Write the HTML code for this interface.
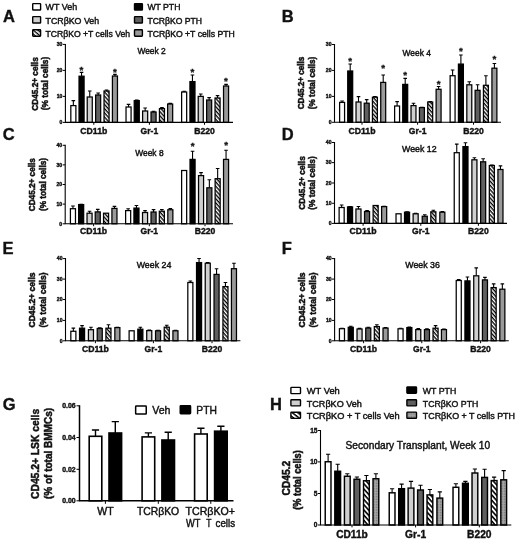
<!DOCTYPE html>
<html lang="en"><head><meta charset="utf-8"><title>Figure</title>
<style>
html,body{margin:0;padding:0;background:#fff;}
body{width:520px;height:542px;overflow:hidden;}
svg{display:block;filter:blur(0.5px);font-family:"Liberation Sans",Arial,Helvetica,sans-serif;fill:#111;}
svg text{fill:#111;}
</style></head><body>
<svg width="520" height="542" viewBox="0 0 520 542">
<defs>
<pattern id="hatch" width="2.8" height="2.8" patternUnits="userSpaceOnUse" patternTransform="rotate(48)"><rect width="2.8" height="2.8" fill="#fff"/><rect width="2.8" height="1.35" fill="#000"/></pattern>
<pattern id="hatchH" width="3.5" height="3.5" patternUnits="userSpaceOnUse" patternTransform="rotate(48)"><rect width="3.5" height="3.5" fill="#fff"/><rect width="3.5" height="1.6" fill="#000"/></pattern>
<pattern id="hatchLA" width="3" height="3" patternUnits="userSpaceOnUse" patternTransform="translate(36.65 33) rotate(40) translate(0 -0.65)"><rect width="3" height="3" fill="#fff"/><rect width="3" height="1.3" fill="#000"/></pattern>
<pattern id="hatchLH" width="3.4" height="3.4" patternUnits="userSpaceOnUse" patternTransform="translate(295.7 415.3) rotate(38) translate(0 -0.75)"><rect width="3.4" height="3.4" fill="#fff"/><rect width="3.4" height="1.5" fill="#000"/></pattern>
<pattern id="lg" width="4" height="4" patternUnits="userSpaceOnUse"><rect width="4" height="4" fill="#cfcfcf"/></pattern>
<pattern id="dots" width="1.6" height="1.6" patternUnits="userSpaceOnUse"><rect width="1.6" height="1.6" fill="#a4a4a4"/><rect width="0.8" height="0.8" fill="#777"/></pattern>
</defs>
<rect width="520" height="542" fill="#fff"/>
<g><path d="M73.35 105.60V100.60M71.55 100.60H75.15" stroke="#000" stroke-width="1.1" fill="none"/><rect x="70.83" y="105.60" width="5.05" height="16.80" fill="#fff" stroke="#000" stroke-width="1.25"/><path d="M81.55 76.20V72.40M79.75 72.40H83.35" stroke="#000" stroke-width="1.1" fill="none"/><rect x="79.03" y="76.20" width="5.05" height="46.20" fill="#000" stroke="#000" stroke-width="1.25"/><path d="M89.75 97.00V91.00M87.95 91.00H91.55" stroke="#000" stroke-width="1.1" fill="none"/><rect x="87.22" y="97.00" width="5.05" height="25.40" fill="url(#lg)" stroke="#000" stroke-width="1.25"/><path d="M98.15 95.00V93.00M96.35 93.00H99.95" stroke="#000" stroke-width="1.1" fill="none"/><rect x="95.62" y="95.00" width="5.05" height="27.40" fill="#606060" stroke="#000" stroke-width="1.25"/><path d="M106.55 91.00V90.00M104.75 90.00H108.35" stroke="#000" stroke-width="1.1" fill="none"/><rect x="104.03" y="91.00" width="5.05" height="31.40" fill="url(#hatch)" stroke="#000" stroke-width="1.25"/><path d="M114.95 76.00V74.40M113.15 74.40H116.75" stroke="#000" stroke-width="1.1" fill="none"/><rect x="112.42" y="76.00" width="5.05" height="46.40" fill="#9a9a9a" stroke="#000" stroke-width="1.25"/><path d="M128.55 107.00V104.40M126.75 104.40H130.35" stroke="#000" stroke-width="1.1" fill="none"/><rect x="126.03" y="107.00" width="5.05" height="15.40" fill="#fff" stroke="#000" stroke-width="1.25"/><path d="M136.75 100.60V100.00M134.95 100.00H138.55" stroke="#000" stroke-width="1.1" fill="none"/><rect x="134.22" y="100.60" width="5.05" height="21.80" fill="#000" stroke="#000" stroke-width="1.25"/><path d="M145.15 111.00V108.00M143.35 108.00H146.95" stroke="#000" stroke-width="1.1" fill="none"/><rect x="142.62" y="111.00" width="5.05" height="11.40" fill="url(#lg)" stroke="#000" stroke-width="1.25"/><path d="M153.55 112.00V111.20M151.75 111.20H155.35" stroke="#000" stroke-width="1.1" fill="none"/><rect x="151.03" y="112.00" width="5.05" height="10.40" fill="#606060" stroke="#000" stroke-width="1.25"/><path d="M161.95 108.60V107.60M160.15 107.60H163.75" stroke="#000" stroke-width="1.1" fill="none"/><rect x="159.43" y="108.60" width="5.05" height="13.80" fill="url(#hatch)" stroke="#000" stroke-width="1.25"/><path d="M170.15 104.00V103.40M168.35 103.40H171.95" stroke="#000" stroke-width="1.1" fill="none"/><rect x="167.62" y="104.00" width="5.05" height="18.40" fill="#9a9a9a" stroke="#000" stroke-width="1.25"/><path d="M184.15 92.00V91.20M182.35 91.20H185.95" stroke="#000" stroke-width="1.1" fill="none"/><rect x="181.62" y="92.00" width="5.05" height="30.40" fill="#fff" stroke="#000" stroke-width="1.25"/><path d="M192.45 81.60V75.00M190.65 75.00H194.25" stroke="#000" stroke-width="1.1" fill="none"/><rect x="189.93" y="81.60" width="5.05" height="40.80" fill="#000" stroke="#000" stroke-width="1.25"/><path d="M200.75 96.40V94.00M198.95 94.00H202.55" stroke="#000" stroke-width="1.1" fill="none"/><rect x="198.22" y="96.40" width="5.05" height="26.00" fill="url(#lg)" stroke="#000" stroke-width="1.25"/><path d="M209.15 100.00V97.60M207.35 97.60H210.95" stroke="#000" stroke-width="1.1" fill="none"/><rect x="206.62" y="100.00" width="5.05" height="22.40" fill="#606060" stroke="#000" stroke-width="1.25"/><path d="M217.55 98.00V95.60M215.75 95.60H219.35" stroke="#000" stroke-width="1.1" fill="none"/><rect x="215.03" y="98.00" width="5.05" height="24.40" fill="url(#hatch)" stroke="#000" stroke-width="1.25"/><path d="M226.05 86.00V84.40M224.25 84.40H227.85" stroke="#000" stroke-width="1.1" fill="none"/><rect x="223.53" y="86.00" width="5.05" height="36.40" fill="#9a9a9a" stroke="#000" stroke-width="1.25"/><text x="81.50" y="72.50" font-size="9.8" stroke="#111" stroke-width="0.3" font-weight="700" text-anchor="middle">*</text><text x="115.00" y="74.50" font-size="9.8" stroke="#111" stroke-width="0.3" font-weight="700" text-anchor="middle">*</text><text x="192.50" y="74.90" font-size="9.8" stroke="#111" stroke-width="0.3" font-weight="700" text-anchor="middle">*</text><text x="226.00" y="83.50" font-size="9.8" stroke="#111" stroke-width="0.3" font-weight="700" text-anchor="middle">*</text><path d="M65.40 43.90V122.40M64.90 122.40H233.00" stroke="#000" stroke-width="1.1" fill="none"/><path d="M62.80 44.40H65.40" stroke="#000" stroke-width="1"/><text x="62.40" y="46.24" font-size="5.1" font-weight="700" stroke="#111" stroke-width="0.38" text-anchor="end">30</text><path d="M62.80 70.40H65.40" stroke="#000" stroke-width="1"/><text x="62.40" y="72.24" font-size="5.1" font-weight="700" stroke="#111" stroke-width="0.38" text-anchor="end">20</text><path d="M62.80 96.40H65.40" stroke="#000" stroke-width="1"/><text x="62.40" y="98.24" font-size="5.1" font-weight="700" stroke="#111" stroke-width="0.38" text-anchor="end">10</text><path d="M62.80 122.40H65.40" stroke="#000" stroke-width="1"/><text x="62.40" y="124.24" font-size="5.1" font-weight="700" stroke="#111" stroke-width="0.38" text-anchor="end">0</text><path d="M93.80 122.40v2.4" stroke="#000" stroke-width="1"/><text x="93.80" y="133.50" font-size="8.5" font-weight="700" stroke="#111" stroke-width="0.38" text-anchor="middle" textLength="27.0" lengthAdjust="spacingAndGlyphs">CD11b</text><path d="M149.40 122.40v2.4" stroke="#000" stroke-width="1"/><text x="149.40" y="133.50" font-size="8.5" font-weight="700" stroke="#111" stroke-width="0.38" text-anchor="middle" textLength="17.6" lengthAdjust="spacingAndGlyphs">Gr-1</text><path d="M204.50 122.40v2.4" stroke="#000" stroke-width="1"/><text x="204.50" y="133.50" font-size="8.5" font-weight="700" stroke="#111" stroke-width="0.38" text-anchor="middle" textLength="20.6" lengthAdjust="spacingAndGlyphs">B220</text><text x="38.00" y="84.00" font-size="8.3" font-weight="700" stroke="#111" stroke-width="0.5" text-anchor="middle" transform="rotate(-90 38.00 84.00)" textLength="53.5" lengthAdjust="spacingAndGlyphs">CD45.2+ cells</text><text x="47.80" y="83.50" font-size="8.3" font-weight="700" stroke="#111" stroke-width="0.5" text-anchor="middle" transform="rotate(-90 47.80 83.50)" textLength="53.5" lengthAdjust="spacingAndGlyphs">(% total cells)</text><text x="151.60" y="53.80" font-size="8.6" stroke="#111" stroke-width="0.42" text-anchor="middle" textLength="28.3" lengthAdjust="spacingAndGlyphs">Week 2</text><text x="3.00" y="21.90" font-size="16.5" font-weight="700" stroke="#111" stroke-width="0.38" text-anchor="start">A</text></g>
<g><path d="M342.10 102.40V101.00M340.30 101.00H343.90" stroke="#000" stroke-width="1.1" fill="none"/><rect x="339.62" y="102.40" width="4.95" height="19.90" fill="#fff" stroke="#000" stroke-width="1.25"/><path d="M350.20 71.00V64.00M348.40 64.00H352.00" stroke="#000" stroke-width="1.1" fill="none"/><rect x="347.73" y="71.00" width="4.95" height="51.30" fill="#000" stroke="#000" stroke-width="1.25"/><path d="M358.50 102.00V96.60M356.70 96.60H360.30" stroke="#000" stroke-width="1.1" fill="none"/><rect x="356.02" y="102.00" width="4.95" height="20.30" fill="url(#lg)" stroke="#000" stroke-width="1.25"/><path d="M366.70 103.20V99.60M364.90 99.60H368.50" stroke="#000" stroke-width="1.1" fill="none"/><rect x="364.23" y="103.20" width="4.95" height="19.10" fill="#606060" stroke="#000" stroke-width="1.25"/><path d="M374.90 97.20V96.60M373.10 96.60H376.70" stroke="#000" stroke-width="1.1" fill="none"/><rect x="372.43" y="97.20" width="4.95" height="25.10" fill="url(#hatch)" stroke="#000" stroke-width="1.25"/><path d="M383.20 82.40V75.00M381.40 75.00H385.00" stroke="#000" stroke-width="1.1" fill="none"/><rect x="380.73" y="82.40" width="4.95" height="39.90" fill="#9a9a9a" stroke="#000" stroke-width="1.25"/><path d="M397.10 106.00V101.60M395.30 101.60H398.90" stroke="#000" stroke-width="1.1" fill="none"/><rect x="394.62" y="106.00" width="4.95" height="16.30" fill="#fff" stroke="#000" stroke-width="1.25"/><path d="M405.20 84.40V78.40M403.40 78.40H407.00" stroke="#000" stroke-width="1.1" fill="none"/><rect x="402.73" y="84.40" width="4.95" height="37.90" fill="#000" stroke="#000" stroke-width="1.25"/><path d="M413.50 105.60V103.20M411.70 103.20H415.30" stroke="#000" stroke-width="1.1" fill="none"/><rect x="411.02" y="105.60" width="4.95" height="16.70" fill="url(#lg)" stroke="#000" stroke-width="1.25"/><path d="M421.90 107.60V107.20M420.10 107.20H423.70" stroke="#000" stroke-width="1.1" fill="none"/><rect x="419.43" y="107.60" width="4.95" height="14.70" fill="#606060" stroke="#000" stroke-width="1.25"/><path d="M430.20 102.00V101.60M428.40 101.60H432.00" stroke="#000" stroke-width="1.1" fill="none"/><rect x="427.73" y="102.00" width="4.95" height="20.30" fill="url(#hatch)" stroke="#000" stroke-width="1.25"/><path d="M438.60 89.30V86.50M436.80 86.50H440.40" stroke="#000" stroke-width="1.1" fill="none"/><rect x="436.12" y="89.30" width="4.95" height="33.00" fill="#9a9a9a" stroke="#000" stroke-width="1.25"/><path d="M452.60 75.70V70.00M450.80 70.00H454.40" stroke="#000" stroke-width="1.1" fill="none"/><rect x="450.12" y="75.70" width="4.95" height="46.60" fill="#fff" stroke="#000" stroke-width="1.25"/><path d="M460.90 64.10V55.00M459.10 55.00H462.70" stroke="#000" stroke-width="1.1" fill="none"/><rect x="458.43" y="64.10" width="4.95" height="58.20" fill="#000" stroke="#000" stroke-width="1.25"/><path d="M469.30 84.80V81.80M467.50 81.80H471.10" stroke="#000" stroke-width="1.1" fill="none"/><rect x="466.82" y="84.80" width="4.95" height="37.50" fill="url(#lg)" stroke="#000" stroke-width="1.25"/><path d="M477.60 90.30V84.80M475.80 84.80H479.40" stroke="#000" stroke-width="1.1" fill="none"/><rect x="475.12" y="90.30" width="4.95" height="32.00" fill="#606060" stroke="#000" stroke-width="1.25"/><path d="M485.90 85.30V75.70M484.10 75.70H487.70" stroke="#000" stroke-width="1.1" fill="none"/><rect x="483.43" y="85.30" width="4.95" height="37.00" fill="url(#hatch)" stroke="#000" stroke-width="1.25"/><path d="M494.40 68.20V63.50M492.60 63.50H496.20" stroke="#000" stroke-width="1.1" fill="none"/><rect x="491.93" y="68.20" width="4.95" height="54.10" fill="#9a9a9a" stroke="#000" stroke-width="1.25"/><text x="350.20" y="63.90" font-size="9.8" stroke="#111" stroke-width="0.3" font-weight="700" text-anchor="middle">*</text><text x="383.20" y="70.50" font-size="9.8" stroke="#111" stroke-width="0.3" font-weight="700" text-anchor="middle">*</text><text x="405.20" y="77.50" font-size="9.8" stroke="#111" stroke-width="0.3" font-weight="700" text-anchor="middle">*</text><text x="438.60" y="86.90" font-size="9.8" stroke="#111" stroke-width="0.3" font-weight="700" text-anchor="middle">*</text><text x="461.00" y="53.80" font-size="9.8" stroke="#111" stroke-width="0.3" font-weight="700" text-anchor="middle">*</text><text x="494.40" y="61.50" font-size="9.8" stroke="#111" stroke-width="0.3" font-weight="700" text-anchor="middle">*</text><path d="M334.50 44.00V122.30M334.00 122.30H501.00" stroke="#000" stroke-width="1.1" fill="none"/><path d="M331.90 44.50H334.50" stroke="#000" stroke-width="1"/><text x="331.50" y="46.34" font-size="5.1" font-weight="700" stroke="#111" stroke-width="0.38" text-anchor="end">30</text><path d="M331.90 70.40H334.50" stroke="#000" stroke-width="1"/><text x="331.50" y="72.24" font-size="5.1" font-weight="700" stroke="#111" stroke-width="0.38" text-anchor="end">20</text><path d="M331.90 96.40H334.50" stroke="#000" stroke-width="1"/><text x="331.50" y="98.24" font-size="5.1" font-weight="700" stroke="#111" stroke-width="0.38" text-anchor="end">10</text><path d="M331.90 122.30H334.50" stroke="#000" stroke-width="1"/><text x="331.50" y="124.14" font-size="5.1" font-weight="700" stroke="#111" stroke-width="0.38" text-anchor="end">0</text><path d="M362.00 122.30v2.4" stroke="#000" stroke-width="1"/><text x="362.00" y="133.50" font-size="8.5" font-weight="700" stroke="#111" stroke-width="0.38" text-anchor="middle" textLength="27.0" lengthAdjust="spacingAndGlyphs">CD11b</text><path d="M417.60 122.30v2.4" stroke="#000" stroke-width="1"/><text x="417.60" y="133.50" font-size="8.5" font-weight="700" stroke="#111" stroke-width="0.38" text-anchor="middle" textLength="17.6" lengthAdjust="spacingAndGlyphs">Gr-1</text><path d="M473.50 122.30v2.4" stroke="#000" stroke-width="1"/><text x="473.50" y="133.50" font-size="8.5" font-weight="700" stroke="#111" stroke-width="0.38" text-anchor="middle" textLength="20.6" lengthAdjust="spacingAndGlyphs">B220</text><text x="303.60" y="83.00" font-size="8.3" font-weight="700" stroke="#111" stroke-width="0.5" text-anchor="middle" transform="rotate(-90 303.60 83.00)" textLength="52.5" lengthAdjust="spacingAndGlyphs">CD45.2+ cells</text><text x="315.00" y="83.00" font-size="8.3" font-weight="700" stroke="#111" stroke-width="0.5" text-anchor="middle" transform="rotate(-90 315.00 83.00)" textLength="52.5" lengthAdjust="spacingAndGlyphs">(% total cells)</text><text x="416.70" y="56.20" font-size="8.6" stroke="#111" stroke-width="0.42" text-anchor="middle" textLength="28.3" lengthAdjust="spacingAndGlyphs">Week 4</text><text x="281.80" y="21.90" font-size="16.5" font-weight="700" stroke="#111" stroke-width="0.38" text-anchor="start">B</text></g>
<g><path d="M72.95 208.70V206.00M71.15 206.00H74.75" stroke="#000" stroke-width="1.1" fill="none"/><rect x="70.42" y="208.70" width="5.05" height="15.10" fill="#fff" stroke="#000" stroke-width="1.25"/><path d="M81.15 204.60V204.20M79.35 204.20H82.95" stroke="#000" stroke-width="1.1" fill="none"/><rect x="78.62" y="204.60" width="5.05" height="19.20" fill="#000" stroke="#000" stroke-width="1.25"/><path d="M89.55 213.20V211.20M87.75 211.20H91.35" stroke="#000" stroke-width="1.1" fill="none"/><rect x="87.03" y="213.20" width="5.05" height="10.60" fill="url(#lg)" stroke="#000" stroke-width="1.25"/><path d="M97.75 211.90V209.40M95.95 209.40H99.55" stroke="#000" stroke-width="1.1" fill="none"/><rect x="95.22" y="211.90" width="5.05" height="11.90" fill="#606060" stroke="#000" stroke-width="1.25"/><rect x="103.53" y="213.20" width="5.05" height="10.60" fill="url(#hatch)" stroke="#000" stroke-width="1.25"/><path d="M114.45 208.40V206.40M112.65 206.40H116.25" stroke="#000" stroke-width="1.1" fill="none"/><rect x="111.92" y="208.40" width="5.05" height="15.40" fill="#9a9a9a" stroke="#000" stroke-width="1.25"/><path d="M128.15 210.60V208.70M126.35 208.70H129.95" stroke="#000" stroke-width="1.1" fill="none"/><rect x="125.62" y="210.60" width="5.05" height="13.20" fill="#fff" stroke="#000" stroke-width="1.25"/><path d="M136.45 208.10V205.50M134.65 205.50H138.25" stroke="#000" stroke-width="1.1" fill="none"/><rect x="133.93" y="208.10" width="5.05" height="15.70" fill="#000" stroke="#000" stroke-width="1.25"/><path d="M145.05 212.50V210.60M143.25 210.60H146.85" stroke="#000" stroke-width="1.1" fill="none"/><rect x="142.53" y="212.50" width="5.05" height="11.30" fill="url(#lg)" stroke="#000" stroke-width="1.25"/><path d="M153.55 212.00V209.60M151.75 209.60H155.35" stroke="#000" stroke-width="1.1" fill="none"/><rect x="151.03" y="212.00" width="5.05" height="11.80" fill="#606060" stroke="#000" stroke-width="1.25"/><path d="M161.85 211.20V209.50M160.05 209.50H163.65" stroke="#000" stroke-width="1.1" fill="none"/><rect x="159.32" y="211.20" width="5.05" height="12.60" fill="url(#hatch)" stroke="#000" stroke-width="1.25"/><path d="M170.35 209.75V208.50M168.55 208.50H172.15" stroke="#000" stroke-width="1.1" fill="none"/><rect x="167.82" y="209.75" width="5.05" height="14.05" fill="#9a9a9a" stroke="#000" stroke-width="1.25"/><rect x="181.62" y="170.50" width="5.05" height="53.30" fill="#fff" stroke="#000" stroke-width="1.25"/><path d="M192.55 159.40V151.25M190.75 151.25H194.35" stroke="#000" stroke-width="1.1" fill="none"/><rect x="190.03" y="159.40" width="5.05" height="64.40" fill="#000" stroke="#000" stroke-width="1.25"/><path d="M201.05 175.60V172.60M199.25 172.60H202.85" stroke="#000" stroke-width="1.1" fill="none"/><rect x="198.53" y="175.60" width="5.05" height="48.20" fill="url(#lg)" stroke="#000" stroke-width="1.25"/><path d="M209.35 187.80V179.70M207.55 179.70H211.15" stroke="#000" stroke-width="1.1" fill="none"/><rect x="206.82" y="187.80" width="5.05" height="36.00" fill="#606060" stroke="#000" stroke-width="1.25"/><path d="M217.65 178.70V168.50M215.85 168.50H219.45" stroke="#000" stroke-width="1.1" fill="none"/><rect x="215.12" y="178.70" width="5.05" height="45.10" fill="url(#hatch)" stroke="#000" stroke-width="1.25"/><path d="M226.05 159.40V150.20M224.25 150.20H227.85" stroke="#000" stroke-width="1.1" fill="none"/><rect x="223.53" y="159.40" width="5.05" height="64.40" fill="#9a9a9a" stroke="#000" stroke-width="1.25"/><text x="192.60" y="149.00" font-size="9.8" stroke="#111" stroke-width="0.3" font-weight="700" text-anchor="middle">*</text><text x="226.10" y="147.60" font-size="9.8" stroke="#111" stroke-width="0.3" font-weight="700" text-anchor="middle">*</text><path d="M65.20 144.80V223.80M64.70 223.80H233.00" stroke="#000" stroke-width="1.1" fill="none"/><path d="M62.60 145.30H65.20" stroke="#000" stroke-width="1"/><text x="62.20" y="147.14" font-size="5.1" font-weight="700" stroke="#111" stroke-width="0.38" text-anchor="end">40</text><path d="M62.60 164.90H65.20" stroke="#000" stroke-width="1"/><text x="62.20" y="166.74" font-size="5.1" font-weight="700" stroke="#111" stroke-width="0.38" text-anchor="end">30</text><path d="M62.60 184.50H65.20" stroke="#000" stroke-width="1"/><text x="62.20" y="186.34" font-size="5.1" font-weight="700" stroke="#111" stroke-width="0.38" text-anchor="end">20</text><path d="M62.60 204.10H65.20" stroke="#000" stroke-width="1"/><text x="62.20" y="205.94" font-size="5.1" font-weight="700" stroke="#111" stroke-width="0.38" text-anchor="end">10</text><path d="M62.60 223.80H65.20" stroke="#000" stroke-width="1"/><text x="62.20" y="225.64" font-size="5.1" font-weight="700" stroke="#111" stroke-width="0.38" text-anchor="end">0</text><path d="M93.60 223.80v2.4" stroke="#000" stroke-width="1"/><text x="93.60" y="234.10" font-size="8.5" font-weight="700" stroke="#111" stroke-width="0.38" text-anchor="middle" textLength="27.0" lengthAdjust="spacingAndGlyphs">CD11b</text><path d="M149.30 223.80v2.4" stroke="#000" stroke-width="1"/><text x="149.30" y="234.10" font-size="8.5" font-weight="700" stroke="#111" stroke-width="0.38" text-anchor="middle" textLength="17.6" lengthAdjust="spacingAndGlyphs">Gr-1</text><path d="M205.00 223.80v2.4" stroke="#000" stroke-width="1"/><text x="205.00" y="234.10" font-size="8.5" font-weight="700" stroke="#111" stroke-width="0.38" text-anchor="middle" textLength="20.6" lengthAdjust="spacingAndGlyphs">B220</text><text x="35.00" y="184.70" font-size="8.3" font-weight="700" stroke="#111" stroke-width="0.5" text-anchor="middle" transform="rotate(-90 35.00 184.70)" textLength="53.0" lengthAdjust="spacingAndGlyphs">CD45.2+ cells</text><text x="46.30" y="184.50" font-size="8.3" font-weight="700" stroke="#111" stroke-width="0.5" text-anchor="middle" transform="rotate(-90 46.30 184.50)" textLength="53.0" lengthAdjust="spacingAndGlyphs">(% total cells)</text><text x="149.40" y="156.10" font-size="8.6" stroke="#111" stroke-width="0.42" text-anchor="middle" textLength="28.3" lengthAdjust="spacingAndGlyphs">Week 8</text><text x="2.80" y="140.20" font-size="16.5" font-weight="700" stroke="#111" stroke-width="0.38" text-anchor="start">C</text></g>
<g><path d="M341.65 207.50V205.00M339.85 205.00H343.45" stroke="#000" stroke-width="1.1" fill="none"/><rect x="339.12" y="207.50" width="5.05" height="15.90" fill="#fff" stroke="#000" stroke-width="1.25"/><path d="M350.05 206.90V206.50M348.25 206.50H351.85" stroke="#000" stroke-width="1.1" fill="none"/><rect x="347.52" y="206.90" width="5.05" height="16.50" fill="#000" stroke="#000" stroke-width="1.25"/><path d="M358.45 209.00V206.50M356.65 206.50H360.25" stroke="#000" stroke-width="1.1" fill="none"/><rect x="355.93" y="209.00" width="5.05" height="14.40" fill="url(#lg)" stroke="#000" stroke-width="1.25"/><path d="M367.05 211.50V210.60M365.25 210.60H368.85" stroke="#000" stroke-width="1.1" fill="none"/><rect x="364.52" y="211.50" width="5.05" height="11.90" fill="#606060" stroke="#000" stroke-width="1.25"/><rect x="373.12" y="205.50" width="5.05" height="17.90" fill="url(#hatch)" stroke="#000" stroke-width="1.25"/><path d="M384.15 206.60V206.20M382.35 206.20H385.95" stroke="#000" stroke-width="1.1" fill="none"/><rect x="381.62" y="206.60" width="5.05" height="16.80" fill="#9a9a9a" stroke="#000" stroke-width="1.25"/><rect x="396.02" y="213.80" width="5.05" height="9.60" fill="#fff" stroke="#000" stroke-width="1.25"/><path d="M407.05 212.20V211.80M405.25 211.80H408.85" stroke="#000" stroke-width="1.1" fill="none"/><rect x="404.52" y="212.20" width="5.05" height="11.20" fill="#000" stroke="#000" stroke-width="1.25"/><path d="M415.65 213.80V213.40M413.85 213.40H417.45" stroke="#000" stroke-width="1.1" fill="none"/><rect x="413.12" y="213.80" width="5.05" height="9.60" fill="url(#lg)" stroke="#000" stroke-width="1.25"/><path d="M424.75 216.25V214.80M422.95 214.80H426.55" stroke="#000" stroke-width="1.1" fill="none"/><rect x="422.23" y="216.25" width="5.05" height="7.15" fill="#606060" stroke="#000" stroke-width="1.25"/><path d="M433.35 211.80V210.20M431.55 210.20H435.15" stroke="#000" stroke-width="1.1" fill="none"/><rect x="430.82" y="211.80" width="5.05" height="11.60" fill="url(#hatch)" stroke="#000" stroke-width="1.25"/><path d="M442.35 212.20V211.60M440.55 211.60H444.15" stroke="#000" stroke-width="1.1" fill="none"/><rect x="439.82" y="212.20" width="5.05" height="11.20" fill="#9a9a9a" stroke="#000" stroke-width="1.25"/><path d="M456.75 152.70V144.10M454.95 144.10H458.55" stroke="#000" stroke-width="1.1" fill="none"/><rect x="454.23" y="152.70" width="5.05" height="70.70" fill="#fff" stroke="#000" stroke-width="1.25"/><path d="M465.45 146.60V142.70M463.65 142.70H467.25" stroke="#000" stroke-width="1.1" fill="none"/><rect x="462.93" y="146.60" width="5.05" height="76.80" fill="#000" stroke="#000" stroke-width="1.25"/><path d="M474.40 159.80V157.75M472.60 157.75H476.20" stroke="#000" stroke-width="1.1" fill="none"/><rect x="471.88" y="159.80" width="5.05" height="63.60" fill="url(#lg)" stroke="#000" stroke-width="1.25"/><path d="M483.15 161.80V158.80M481.35 158.80H484.95" stroke="#000" stroke-width="1.1" fill="none"/><rect x="480.62" y="161.80" width="5.05" height="61.60" fill="#606060" stroke="#000" stroke-width="1.25"/><path d="M491.85 165.50V165.00M490.05 165.00H493.65" stroke="#000" stroke-width="1.1" fill="none"/><rect x="489.32" y="165.50" width="5.05" height="57.90" fill="url(#hatch)" stroke="#000" stroke-width="1.25"/><path d="M500.45 169.50V165.90M498.65 165.90H502.25" stroke="#000" stroke-width="1.1" fill="none"/><rect x="497.93" y="169.50" width="5.05" height="53.90" fill="#9a9a9a" stroke="#000" stroke-width="1.25"/><path d="M334.50 142.00V223.40M334.00 223.40H507.00" stroke="#000" stroke-width="1.1" fill="none"/><path d="M331.90 142.50H334.50" stroke="#000" stroke-width="1"/><text x="331.50" y="144.34" font-size="5.1" font-weight="700" stroke="#111" stroke-width="0.38" text-anchor="end">40</text><path d="M331.90 162.60H334.50" stroke="#000" stroke-width="1"/><text x="331.50" y="164.44" font-size="5.1" font-weight="700" stroke="#111" stroke-width="0.38" text-anchor="end">30</text><path d="M331.90 183.00H334.50" stroke="#000" stroke-width="1"/><text x="331.50" y="184.84" font-size="5.1" font-weight="700" stroke="#111" stroke-width="0.38" text-anchor="end">20</text><path d="M331.90 203.30H334.50" stroke="#000" stroke-width="1"/><text x="331.50" y="205.14" font-size="5.1" font-weight="700" stroke="#111" stroke-width="0.38" text-anchor="end">10</text><path d="M331.90 223.40H334.50" stroke="#000" stroke-width="1"/><text x="331.50" y="225.24" font-size="5.1" font-weight="700" stroke="#111" stroke-width="0.38" text-anchor="end">0</text><path d="M363.10 223.40v2.4" stroke="#000" stroke-width="1"/><text x="363.10" y="234.10" font-size="8.5" font-weight="700" stroke="#111" stroke-width="0.38" text-anchor="middle" textLength="27.0" lengthAdjust="spacingAndGlyphs">CD11b</text><path d="M420.80 223.40v2.4" stroke="#000" stroke-width="1"/><text x="420.80" y="234.10" font-size="8.5" font-weight="700" stroke="#111" stroke-width="0.38" text-anchor="middle" textLength="17.6" lengthAdjust="spacingAndGlyphs">Gr-1</text><path d="M478.40 223.40v2.4" stroke="#000" stroke-width="1"/><text x="478.40" y="234.10" font-size="8.5" font-weight="700" stroke="#111" stroke-width="0.38" text-anchor="middle" textLength="20.6" lengthAdjust="spacingAndGlyphs">B220</text><text x="304.50" y="183.00" font-size="8.3" font-weight="700" stroke="#111" stroke-width="0.5" text-anchor="middle" transform="rotate(-90 304.50 183.00)" textLength="53.5" lengthAdjust="spacingAndGlyphs">CD45.2+ cells</text><text x="315.30" y="183.00" font-size="8.3" font-weight="700" stroke="#111" stroke-width="0.5" text-anchor="middle" transform="rotate(-90 315.30 183.00)" textLength="53.5" lengthAdjust="spacingAndGlyphs">(% total cells)</text><text x="419.30" y="151.70" font-size="8.6" stroke="#111" stroke-width="0.42" text-anchor="middle" textLength="34.6" lengthAdjust="spacingAndGlyphs">Week 12</text><text x="281.80" y="140.10" font-size="16.5" font-weight="700" stroke="#111" stroke-width="0.38" text-anchor="start">D</text></g>
<g><path d="M73.35 331.25V328.10M71.55 328.10H75.15" stroke="#000" stroke-width="1.1" fill="none"/><rect x="70.83" y="331.25" width="5.05" height="9.55" fill="#fff" stroke="#000" stroke-width="1.25"/><path d="M82.05 328.20V325.60M80.25 325.60H83.85" stroke="#000" stroke-width="1.1" fill="none"/><rect x="79.53" y="328.20" width="5.05" height="12.60" fill="#000" stroke="#000" stroke-width="1.25"/><path d="M90.95 329.70V327.30M89.15 327.30H92.75" stroke="#000" stroke-width="1.1" fill="none"/><rect x="88.42" y="329.70" width="5.05" height="11.10" fill="url(#lg)" stroke="#000" stroke-width="1.25"/><path d="M99.75 328.50V327.80M97.95 327.80H101.55" stroke="#000" stroke-width="1.1" fill="none"/><rect x="97.22" y="328.50" width="5.05" height="12.30" fill="#606060" stroke="#000" stroke-width="1.25"/><path d="M108.45 328.20V324.70M106.65 324.70H110.25" stroke="#000" stroke-width="1.1" fill="none"/><rect x="105.92" y="328.20" width="5.05" height="12.60" fill="url(#hatch)" stroke="#000" stroke-width="1.25"/><path d="M117.35 327.60V327.20M115.55 327.20H119.15" stroke="#000" stroke-width="1.1" fill="none"/><rect x="114.83" y="327.60" width="5.05" height="13.20" fill="#9a9a9a" stroke="#000" stroke-width="1.25"/><rect x="129.12" y="330.80" width="5.05" height="10.00" fill="#fff" stroke="#000" stroke-width="1.25"/><path d="M140.35 329.20V327.20M138.55 327.20H142.15" stroke="#000" stroke-width="1.1" fill="none"/><rect x="137.82" y="329.20" width="5.05" height="11.60" fill="#000" stroke="#000" stroke-width="1.25"/><path d="M149.25 330.60V330.00M147.45 330.00H151.05" stroke="#000" stroke-width="1.1" fill="none"/><rect x="146.72" y="330.60" width="5.05" height="10.20" fill="url(#lg)" stroke="#000" stroke-width="1.25"/><path d="M158.05 330.80V330.30M156.25 330.30H159.85" stroke="#000" stroke-width="1.1" fill="none"/><rect x="155.53" y="330.80" width="5.05" height="10.00" fill="#606060" stroke="#000" stroke-width="1.25"/><path d="M166.75 327.20V325.20M164.95 325.20H168.55" stroke="#000" stroke-width="1.1" fill="none"/><rect x="164.22" y="327.20" width="5.05" height="13.60" fill="url(#hatch)" stroke="#000" stroke-width="1.25"/><path d="M175.45 330.80V330.20M173.65 330.20H177.25" stroke="#000" stroke-width="1.1" fill="none"/><rect x="172.93" y="330.80" width="5.05" height="10.00" fill="#9a9a9a" stroke="#000" stroke-width="1.25"/><path d="M190.35 282.50V281.00M188.55 281.00H192.15" stroke="#000" stroke-width="1.1" fill="none"/><rect x="187.82" y="282.50" width="5.05" height="58.30" fill="#fff" stroke="#000" stroke-width="1.25"/><path d="M199.05 262.60V258.50M197.25 258.50H200.85" stroke="#000" stroke-width="1.1" fill="none"/><rect x="196.53" y="262.60" width="5.05" height="78.20" fill="#000" stroke="#000" stroke-width="1.25"/><path d="M207.75 263.20V262.60M205.95 262.60H209.55" stroke="#000" stroke-width="1.1" fill="none"/><rect x="205.22" y="263.20" width="5.05" height="77.60" fill="url(#lg)" stroke="#000" stroke-width="1.25"/><path d="M216.55 274.40V268.70M214.75 268.70H218.35" stroke="#000" stroke-width="1.1" fill="none"/><rect x="214.03" y="274.40" width="5.05" height="66.40" fill="#606060" stroke="#000" stroke-width="1.25"/><path d="M225.45 286.60V282.50M223.65 282.50H227.25" stroke="#000" stroke-width="1.1" fill="none"/><rect x="222.93" y="286.60" width="5.05" height="54.20" fill="url(#hatch)" stroke="#000" stroke-width="1.25"/><path d="M233.95 268.70V263.20M232.15 263.20H235.75" stroke="#000" stroke-width="1.1" fill="none"/><rect x="231.43" y="268.70" width="5.05" height="72.10" fill="#9a9a9a" stroke="#000" stroke-width="1.25"/><path d="M65.50 258.10V340.80M65.00 340.80H240.40" stroke="#000" stroke-width="1.1" fill="none"/><path d="M62.90 258.60H65.50" stroke="#000" stroke-width="1"/><text x="62.50" y="260.44" font-size="5.1" font-weight="700" stroke="#111" stroke-width="0.38" text-anchor="end">40</text><path d="M62.90 279.10H65.50" stroke="#000" stroke-width="1"/><text x="62.50" y="280.94" font-size="5.1" font-weight="700" stroke="#111" stroke-width="0.38" text-anchor="end">30</text><path d="M62.90 299.50H65.50" stroke="#000" stroke-width="1"/><text x="62.50" y="301.34" font-size="5.1" font-weight="700" stroke="#111" stroke-width="0.38" text-anchor="end">20</text><path d="M62.90 320.40H65.50" stroke="#000" stroke-width="1"/><text x="62.50" y="322.24" font-size="5.1" font-weight="700" stroke="#111" stroke-width="0.38" text-anchor="end">10</text><path d="M62.90 340.80H65.50" stroke="#000" stroke-width="1"/><text x="62.50" y="342.64" font-size="5.1" font-weight="700" stroke="#111" stroke-width="0.38" text-anchor="end">0</text><path d="M95.40 340.80v2.4" stroke="#000" stroke-width="1"/><text x="95.40" y="351.60" font-size="8.5" font-weight="700" stroke="#111" stroke-width="0.38" text-anchor="middle" textLength="27.0" lengthAdjust="spacingAndGlyphs">CD11b</text><path d="M153.40 340.80v2.4" stroke="#000" stroke-width="1"/><text x="153.40" y="351.60" font-size="8.5" font-weight="700" stroke="#111" stroke-width="0.38" text-anchor="middle" textLength="17.6" lengthAdjust="spacingAndGlyphs">Gr-1</text><path d="M212.00 340.80v2.4" stroke="#000" stroke-width="1"/><text x="212.00" y="351.60" font-size="8.5" font-weight="700" stroke="#111" stroke-width="0.38" text-anchor="middle" textLength="20.6" lengthAdjust="spacingAndGlyphs">B220</text><text x="35.00" y="300.00" font-size="8.3" font-weight="700" stroke="#111" stroke-width="0.5" text-anchor="middle" transform="rotate(-90 35.00 300.00)" textLength="55.0" lengthAdjust="spacingAndGlyphs">CD45.2+ cells</text><text x="46.30" y="300.00" font-size="8.3" font-weight="700" stroke="#111" stroke-width="0.5" text-anchor="middle" transform="rotate(-90 46.30 300.00)" textLength="55.0" lengthAdjust="spacingAndGlyphs">(% total cells)</text><text x="154.00" y="267.60" font-size="8.6" stroke="#111" stroke-width="0.42" text-anchor="middle" textLength="34.6" lengthAdjust="spacingAndGlyphs">Week 24</text><text x="2.60" y="253.60" font-size="16.5" font-weight="700" stroke="#111" stroke-width="0.38" text-anchor="start">E</text></g>
<g><path d="M341.95 328.70V328.20M340.15 328.20H343.75" stroke="#000" stroke-width="1.1" fill="none"/><rect x="339.43" y="328.70" width="5.05" height="12.10" fill="#fff" stroke="#000" stroke-width="1.25"/><path d="M350.75 327.30V326.30M348.95 326.30H352.55" stroke="#000" stroke-width="1.1" fill="none"/><rect x="348.23" y="327.30" width="5.05" height="13.50" fill="#000" stroke="#000" stroke-width="1.25"/><path d="M359.55 329.00V328.40M357.75 328.40H361.35" stroke="#000" stroke-width="1.1" fill="none"/><rect x="357.02" y="329.00" width="5.05" height="11.80" fill="url(#lg)" stroke="#000" stroke-width="1.25"/><path d="M368.25 328.00V327.20M366.45 327.20H370.05" stroke="#000" stroke-width="1.1" fill="none"/><rect x="365.73" y="328.00" width="5.05" height="12.80" fill="#606060" stroke="#000" stroke-width="1.25"/><path d="M376.85 326.60V324.80M375.05 324.80H378.65" stroke="#000" stroke-width="1.1" fill="none"/><rect x="374.32" y="326.60" width="5.05" height="14.20" fill="url(#hatch)" stroke="#000" stroke-width="1.25"/><path d="M385.55 328.10V327.60M383.75 327.60H387.35" stroke="#000" stroke-width="1.1" fill="none"/><rect x="383.02" y="328.10" width="5.05" height="12.70" fill="#9a9a9a" stroke="#000" stroke-width="1.25"/><path d="M400.55 328.80V328.20M398.75 328.20H402.35" stroke="#000" stroke-width="1.1" fill="none"/><rect x="398.02" y="328.80" width="5.05" height="12.00" fill="#fff" stroke="#000" stroke-width="1.25"/><path d="M409.35 327.60V327.00M407.55 327.00H411.15" stroke="#000" stroke-width="1.1" fill="none"/><rect x="406.82" y="327.60" width="5.05" height="13.20" fill="#000" stroke="#000" stroke-width="1.25"/><path d="M418.25 329.60V328.60M416.45 328.60H420.05" stroke="#000" stroke-width="1.1" fill="none"/><rect x="415.73" y="329.60" width="5.05" height="11.20" fill="url(#lg)" stroke="#000" stroke-width="1.25"/><path d="M426.95 329.60V328.80M425.15 328.80H428.75" stroke="#000" stroke-width="1.1" fill="none"/><rect x="424.43" y="329.60" width="5.05" height="11.20" fill="#606060" stroke="#000" stroke-width="1.25"/><path d="M435.55 328.20V325.60M433.75 325.60H437.35" stroke="#000" stroke-width="1.1" fill="none"/><rect x="433.02" y="328.20" width="5.05" height="12.60" fill="url(#hatch)" stroke="#000" stroke-width="1.25"/><path d="M443.95 329.60V329.00M442.15 329.00H445.75" stroke="#000" stroke-width="1.1" fill="none"/><rect x="441.43" y="329.60" width="5.05" height="11.20" fill="#9a9a9a" stroke="#000" stroke-width="1.25"/><path d="M458.75 280.50V279.60M456.95 279.60H460.55" stroke="#000" stroke-width="1.1" fill="none"/><rect x="456.23" y="280.50" width="5.05" height="60.30" fill="#fff" stroke="#000" stroke-width="1.25"/><path d="M467.45 280.90V277.00M465.65 277.00H469.25" stroke="#000" stroke-width="1.1" fill="none"/><rect x="464.93" y="280.90" width="5.05" height="59.90" fill="#000" stroke="#000" stroke-width="1.25"/><path d="M476.25 275.80V267.90M474.45 267.90H478.05" stroke="#000" stroke-width="1.1" fill="none"/><rect x="473.73" y="275.80" width="5.05" height="65.00" fill="url(#lg)" stroke="#000" stroke-width="1.25"/><path d="M484.95 279.90V277.40M483.15 277.40H486.75" stroke="#000" stroke-width="1.1" fill="none"/><rect x="482.43" y="279.90" width="5.05" height="60.90" fill="#606060" stroke="#000" stroke-width="1.25"/><path d="M493.65 287.60V283.90M491.85 283.90H495.45" stroke="#000" stroke-width="1.1" fill="none"/><rect x="491.12" y="287.60" width="5.05" height="53.20" fill="url(#hatch)" stroke="#000" stroke-width="1.25"/><path d="M502.35 289.20V283.90M500.55 283.90H504.15" stroke="#000" stroke-width="1.1" fill="none"/><rect x="499.82" y="289.20" width="5.05" height="51.60" fill="#9a9a9a" stroke="#000" stroke-width="1.25"/><path d="M334.60 258.10V340.80M334.10 340.80H508.80" stroke="#000" stroke-width="1.1" fill="none"/><path d="M332.00 258.60H334.60" stroke="#000" stroke-width="1"/><text x="331.60" y="260.44" font-size="5.1" font-weight="700" stroke="#111" stroke-width="0.38" text-anchor="end">40</text><path d="M332.00 279.10H334.60" stroke="#000" stroke-width="1"/><text x="331.60" y="280.94" font-size="5.1" font-weight="700" stroke="#111" stroke-width="0.38" text-anchor="end">30</text><path d="M332.00 299.50H334.60" stroke="#000" stroke-width="1"/><text x="331.60" y="301.34" font-size="5.1" font-weight="700" stroke="#111" stroke-width="0.38" text-anchor="end">20</text><path d="M332.00 320.40H334.60" stroke="#000" stroke-width="1"/><text x="331.60" y="322.24" font-size="5.1" font-weight="700" stroke="#111" stroke-width="0.38" text-anchor="end">10</text><path d="M332.00 340.80H334.60" stroke="#000" stroke-width="1"/><text x="331.60" y="342.64" font-size="5.1" font-weight="700" stroke="#111" stroke-width="0.38" text-anchor="end">0</text><path d="M363.60 340.80v2.4" stroke="#000" stroke-width="1"/><text x="363.60" y="351.60" font-size="8.5" font-weight="700" stroke="#111" stroke-width="0.38" text-anchor="middle" textLength="27.0" lengthAdjust="spacingAndGlyphs">CD11b</text><path d="M421.80 340.80v2.4" stroke="#000" stroke-width="1"/><text x="421.80" y="351.60" font-size="8.5" font-weight="700" stroke="#111" stroke-width="0.38" text-anchor="middle" textLength="17.6" lengthAdjust="spacingAndGlyphs">Gr-1</text><path d="M480.60 340.80v2.4" stroke="#000" stroke-width="1"/><text x="480.60" y="351.60" font-size="8.5" font-weight="700" stroke="#111" stroke-width="0.38" text-anchor="middle" textLength="20.6" lengthAdjust="spacingAndGlyphs">B220</text><text x="304.50" y="300.00" font-size="8.3" font-weight="700" stroke="#111" stroke-width="0.5" text-anchor="middle" transform="rotate(-90 304.50 300.00)" textLength="55.0" lengthAdjust="spacingAndGlyphs">CD45.2+ cells</text><text x="315.50" y="300.00" font-size="8.3" font-weight="700" stroke="#111" stroke-width="0.5" text-anchor="middle" transform="rotate(-90 315.50 300.00)" textLength="55.0" lengthAdjust="spacingAndGlyphs">(% total cells)</text><text x="422.60" y="267.50" font-size="8.6" stroke="#111" stroke-width="0.42" text-anchor="middle" textLength="34.6" lengthAdjust="spacingAndGlyphs">Week 36</text><text x="281.80" y="253.60" font-size="16.5" font-weight="700" stroke="#111" stroke-width="0.38" text-anchor="start">F</text></g>
<g><path d="M328.10 461.75V454.25M326.00 454.25H330.20" stroke="#000" stroke-width="1.1" fill="none"/><rect x="325.23" y="461.75" width="5.75" height="63.25" fill="#fff" stroke="#000" stroke-width="1.45"/><path d="M337.70 471.25V464.25M335.60 464.25H339.80" stroke="#000" stroke-width="1.1" fill="none"/><rect x="334.83" y="471.25" width="5.75" height="53.75" fill="#000" stroke="#000" stroke-width="1.45"/><path d="M347.30 476.25V473.75M345.20 473.75H349.40" stroke="#000" stroke-width="1.1" fill="none"/><rect x="344.43" y="476.25" width="5.75" height="48.75" fill="url(#lg)" stroke="#000" stroke-width="1.45"/><path d="M356.90 479.25V477.00M354.80 477.00H359.00" stroke="#000" stroke-width="1.1" fill="none"/><rect x="354.03" y="479.25" width="5.75" height="45.75" fill="#606060" stroke="#000" stroke-width="1.45"/><path d="M366.40 480.75V475.50M364.30 475.50H368.50" stroke="#000" stroke-width="1.1" fill="none"/><rect x="363.53" y="480.75" width="5.75" height="44.25" fill="url(#hatchH)" stroke="#000" stroke-width="1.45"/><path d="M375.90 478.75V473.75M373.80 473.75H378.00" stroke="#000" stroke-width="1.1" fill="none"/><rect x="373.03" y="478.75" width="5.75" height="46.25" fill="url(#dots)" stroke="#000" stroke-width="1.45"/><path d="M392.10 492.80V488.70M390.00 488.70H394.20" stroke="#000" stroke-width="1.1" fill="none"/><rect x="389.23" y="492.80" width="5.75" height="32.20" fill="#fff" stroke="#000" stroke-width="1.45"/><path d="M401.60 488.70V484.10M399.50 484.10H403.70" stroke="#000" stroke-width="1.1" fill="none"/><rect x="398.73" y="488.70" width="5.75" height="36.30" fill="#000" stroke="#000" stroke-width="1.45"/><path d="M411.00 488.10V481.40M408.90 481.40H413.10" stroke="#000" stroke-width="1.1" fill="none"/><rect x="408.12" y="488.10" width="5.75" height="36.90" fill="url(#lg)" stroke="#000" stroke-width="1.45"/><path d="M420.50 490.00V485.20M418.40 485.20H422.60" stroke="#000" stroke-width="1.1" fill="none"/><rect x="417.62" y="490.00" width="5.75" height="35.00" fill="#606060" stroke="#000" stroke-width="1.45"/><path d="M429.90 494.90V489.50M427.80 489.50H432.00" stroke="#000" stroke-width="1.1" fill="none"/><rect x="427.03" y="494.90" width="5.75" height="30.10" fill="url(#hatchH)" stroke="#000" stroke-width="1.45"/><path d="M439.80 498.10V491.90M437.70 491.90H441.90" stroke="#000" stroke-width="1.1" fill="none"/><rect x="436.93" y="498.10" width="5.75" height="26.90" fill="url(#dots)" stroke="#000" stroke-width="1.45"/><path d="M455.90 487.30V483.80M453.80 483.80H458.00" stroke="#000" stroke-width="1.1" fill="none"/><rect x="453.03" y="487.30" width="5.75" height="37.70" fill="#fff" stroke="#000" stroke-width="1.45"/><path d="M465.40 483.30V481.40M463.30 481.40H467.50" stroke="#000" stroke-width="1.1" fill="none"/><rect x="462.53" y="483.30" width="5.75" height="41.70" fill="#000" stroke="#000" stroke-width="1.45"/><path d="M474.90 473.00V469.00M472.80 469.00H477.00" stroke="#000" stroke-width="1.1" fill="none"/><rect x="472.03" y="473.00" width="5.75" height="52.00" fill="url(#lg)" stroke="#000" stroke-width="1.45"/><path d="M484.60 477.40V469.30M482.50 469.30H486.70" stroke="#000" stroke-width="1.1" fill="none"/><rect x="481.73" y="477.40" width="5.75" height="47.60" fill="#606060" stroke="#000" stroke-width="1.45"/><path d="M494.10 480.60V477.10M492.00 477.10H496.20" stroke="#000" stroke-width="1.1" fill="none"/><rect x="491.23" y="480.60" width="5.75" height="44.40" fill="url(#hatchH)" stroke="#000" stroke-width="1.45"/><path d="M503.70 479.80V470.60M501.60 470.60H505.80" stroke="#000" stroke-width="1.1" fill="none"/><rect x="500.83" y="479.80" width="5.75" height="45.20" fill="url(#dots)" stroke="#000" stroke-width="1.45"/><path d="M320.50 430.00V525.00M320.00 525.00H511.30" stroke="#000" stroke-width="1.1" fill="none"/><path d="M317.90 430.50H320.50" stroke="#000" stroke-width="1"/><text x="317.50" y="432.88" font-size="6.6" font-weight="700" stroke="#111" stroke-width="0.38" text-anchor="end">15</text><path d="M317.90 461.90H320.50" stroke="#000" stroke-width="1"/><text x="317.50" y="464.28" font-size="6.6" font-weight="700" stroke="#111" stroke-width="0.38" text-anchor="end">10</text><path d="M317.90 493.50H320.50" stroke="#000" stroke-width="1"/><text x="317.50" y="495.88" font-size="6.6" font-weight="700" stroke="#111" stroke-width="0.38" text-anchor="end">5</text><path d="M317.90 525.00H320.50" stroke="#000" stroke-width="1"/><text x="317.50" y="527.38" font-size="6.6" font-weight="700" stroke="#111" stroke-width="0.38" text-anchor="end">0</text><path d="M352.00 525.00v2.4" stroke="#000" stroke-width="1"/><text x="352.00" y="538.00" font-size="10" font-weight="700" stroke="#111" stroke-width="0.38" text-anchor="middle" textLength="31.7" lengthAdjust="spacingAndGlyphs">CD11b</text><path d="M415.60 525.00v2.4" stroke="#000" stroke-width="1"/><text x="415.60" y="538.00" font-size="10" font-weight="700" stroke="#111" stroke-width="0.38" text-anchor="middle" textLength="21.0" lengthAdjust="spacingAndGlyphs">Gr-1</text><path d="M479.30 525.00v2.4" stroke="#000" stroke-width="1"/><text x="479.30" y="538.00" font-size="10" font-weight="700" stroke="#111" stroke-width="0.38" text-anchor="middle" textLength="24.5" lengthAdjust="spacingAndGlyphs">B220</text><text x="289.60" y="478.20" font-size="10.8" font-weight="700" stroke="#111" stroke-width="0.5" text-anchor="middle" transform="rotate(-90 289.60 478.20)" textLength="34.6" lengthAdjust="spacingAndGlyphs">CD45.2</text><text x="301.30" y="480.00" font-size="10.3" font-weight="700" stroke="#111" stroke-width="0.5" text-anchor="middle" transform="rotate(-90 301.30 480.00)" textLength="59.6" lengthAdjust="spacingAndGlyphs">(% total cells)</text><text x="417.80" y="449.10" font-size="10.3" stroke="#111" stroke-width="0.42" text-anchor="middle" textLength="144.5" lengthAdjust="spacingAndGlyphs">Secondary Transplant, Week 10</text><text x="270.00" y="409.80" font-size="16.5" font-weight="700" stroke="#111" stroke-width="0.38" text-anchor="start">H</text></g>
<rect x="32.70" y="3.60" width="7.90" height="6.40" rx="0.6" fill="#fff" stroke="#000" stroke-width="1.4"/><text x="45.50" y="10.10" font-size="8.7" stroke="#111" stroke-width="0.42" text-anchor="start" textLength="31.6" lengthAdjust="spacingAndGlyphs">WT Veh</text><rect x="32.70" y="16.60" width="7.90" height="6.40" rx="0.6" fill="url(#lg)" stroke="#000" stroke-width="1.4"/><text x="45.50" y="23.60" font-size="8.7" stroke="#111" stroke-width="0.42" text-anchor="start" textLength="53.6" lengthAdjust="spacingAndGlyphs">TCRβKO Veh</text><rect x="32.70" y="29.80" width="7.90" height="6.40" rx="0.6" fill="url(#hatchLA)" stroke="#000" stroke-width="1.4"/><text x="45.50" y="36.70" font-size="8.7" stroke="#111" stroke-width="0.42" text-anchor="start" textLength="84.6" lengthAdjust="spacingAndGlyphs">TCRβKO +T cells Veh</text><rect x="134.50" y="3.60" width="7.90" height="6.40" rx="0.6" fill="#000" stroke="#000" stroke-width="1.4"/><text x="147.40" y="10.10" font-size="8.7" stroke="#111" stroke-width="0.42" text-anchor="start" textLength="33.0" lengthAdjust="spacingAndGlyphs">WT PTH</text><rect x="134.50" y="16.60" width="7.90" height="6.40" rx="0.6" fill="#606060" stroke="#000" stroke-width="1.4"/><text x="147.40" y="23.60" font-size="8.7" stroke="#111" stroke-width="0.42" text-anchor="start" textLength="54.5" lengthAdjust="spacingAndGlyphs">TCRβKO PTH</text><rect x="134.50" y="29.80" width="7.90" height="6.40" rx="0.6" fill="#9a9a9a" stroke="#000" stroke-width="1.4"/><text x="147.40" y="36.70" font-size="8.7" stroke="#111" stroke-width="0.42" text-anchor="start" textLength="87.3" lengthAdjust="spacingAndGlyphs">TCRβKO +T cells PTH</text>
<rect x="290.90" y="387.40" width="9.60" height="6.20" rx="0.6" fill="#fff" stroke="#000" stroke-width="1.4"/><text x="306.80" y="394.10" font-size="8.8" stroke="#111" stroke-width="0.42" text-anchor="start" textLength="33.0" lengthAdjust="spacingAndGlyphs">WT Veh</text><rect x="290.90" y="399.70" width="9.60" height="6.20" rx="0.6" fill="url(#lg)" stroke="#000" stroke-width="1.4"/><text x="306.80" y="406.60" font-size="8.8" stroke="#111" stroke-width="0.42" text-anchor="start" textLength="55.0" lengthAdjust="spacingAndGlyphs">TCRβKO Veh</text><rect x="290.90" y="412.20" width="9.60" height="6.20" rx="0.6" fill="url(#hatchLH)" stroke="#000" stroke-width="1.4"/><text x="306.80" y="419.20" font-size="8.8" stroke="#111" stroke-width="0.42" text-anchor="start" textLength="92.8" lengthAdjust="spacingAndGlyphs">TCRβKO + T cells Veh</text><rect x="406.90" y="387.00" width="9.60" height="6.20" rx="0.6" fill="#000" stroke="#000" stroke-width="1.4"/><text x="422.80" y="393.90" font-size="8.8" stroke="#111" stroke-width="0.42" text-anchor="start" textLength="33.5" lengthAdjust="spacingAndGlyphs">WT PTH</text><rect x="406.90" y="399.70" width="9.60" height="6.20" rx="0.6" fill="#606060" stroke="#000" stroke-width="1.4"/><text x="422.80" y="406.60" font-size="8.8" stroke="#111" stroke-width="0.42" text-anchor="start" textLength="55.5" lengthAdjust="spacingAndGlyphs">TCRβKO PTH</text><rect x="406.90" y="412.10" width="9.60" height="6.20" rx="0.6" fill="url(#dots)" stroke="#000" stroke-width="1.4"/><text x="422.80" y="419.10" font-size="8.8" stroke="#111" stroke-width="0.42" text-anchor="start" textLength="92.2" lengthAdjust="spacingAndGlyphs">TCRβKO + T cells PTH</text>
<g><path d="M95.50 436.30V430.00M91.90 430.00H99.10" stroke="#000" stroke-width="1.4" fill="none"/><rect x="89.20" y="436.30" width="12.60" height="64.50" fill="#fff" stroke="#000" stroke-width="1.6"/><path d="M115.30 433.00V421.60M111.70 421.60H118.90" stroke="#000" stroke-width="1.4" fill="none"/><rect x="109.00" y="433.00" width="12.60" height="67.80" fill="#000" stroke="#000" stroke-width="1.6"/><path d="M148.40 436.90V432.90M144.80 432.90H152.00" stroke="#000" stroke-width="1.4" fill="none"/><rect x="142.10" y="436.90" width="12.60" height="63.90" fill="#fff" stroke="#000" stroke-width="1.6"/><path d="M168.20 440.00V432.30M164.60 432.30H171.80" stroke="#000" stroke-width="1.4" fill="none"/><rect x="161.90" y="440.00" width="12.60" height="60.80" fill="#000" stroke="#000" stroke-width="1.6"/><path d="M200.90 434.00V428.30M197.30 428.30H204.50" stroke="#000" stroke-width="1.4" fill="none"/><rect x="194.60" y="434.00" width="12.60" height="66.80" fill="#fff" stroke="#000" stroke-width="1.6"/><path d="M220.90 431.20V426.20M217.30 426.20H224.50" stroke="#000" stroke-width="1.4" fill="none"/><rect x="214.60" y="431.20" width="12.60" height="69.60" fill="#000" stroke="#000" stroke-width="1.6"/><path d="M79.50 405.30V500.80M78.90 500.80H233.50" stroke="#000" stroke-width="1.5" fill="none"/><path d="M76.50 405.80H79.50" stroke="#000" stroke-width="1"/><text x="75.70" y="408.30" font-size="6.9" font-weight="700" stroke="#111" stroke-width="0.38" text-anchor="end">0.06</text><path d="M76.50 437.50H79.50" stroke="#000" stroke-width="1"/><text x="75.70" y="440.00" font-size="6.9" font-weight="700" stroke="#111" stroke-width="0.38" text-anchor="end">0.04</text><path d="M76.50 469.30H79.50" stroke="#000" stroke-width="1"/><text x="75.70" y="471.80" font-size="6.9" font-weight="700" stroke="#111" stroke-width="0.38" text-anchor="end">0.02</text><path d="M76.50 500.80H79.50" stroke="#000" stroke-width="1"/><text x="75.70" y="503.30" font-size="6.9" font-weight="700" stroke="#111" stroke-width="0.38" text-anchor="end">0.00</text><path d="M105.40 500.80v3" stroke="#000" stroke-width="1"/><path d="M158.30 500.80v3" stroke="#000" stroke-width="1"/><path d="M210.80 500.80v3" stroke="#000" stroke-width="1"/><text x="105.50" y="514.80" font-size="10.5" stroke="#111" stroke-width="0.42" text-anchor="middle" textLength="16.4" lengthAdjust="spacingAndGlyphs">WT</text><text x="158.05" y="515.20" font-size="10.5" stroke="#111" stroke-width="0.42" text-anchor="middle" textLength="42.3" lengthAdjust="spacingAndGlyphs">TCRβKO</text><text x="210.20" y="515.20" font-size="10.5" stroke="#111" stroke-width="0.42" text-anchor="middle" textLength="49.4" lengthAdjust="spacingAndGlyphs">TCRβKO+</text><text x="193.30" y="527.00" font-size="10.5" stroke="#111" stroke-width="0.42" text-anchor="middle" textLength="14.4" lengthAdjust="spacingAndGlyphs">WT</text><text x="208.75" y="527.00" font-size="10.5" stroke="#111" stroke-width="0.42" text-anchor="middle" textLength="5.2" lengthAdjust="spacingAndGlyphs">T</text><text x="225.30" y="527.00" font-size="10.5" stroke="#111" stroke-width="0.42" text-anchor="middle" textLength="19.6" lengthAdjust="spacingAndGlyphs">cells</text><text x="39.20" y="453.90" font-size="11" font-weight="700" stroke="#111" stroke-width="0.5" text-anchor="middle" transform="rotate(-90 39.20 453.90)" textLength="90.2" lengthAdjust="spacingAndGlyphs">CD45.2+ LSK cells</text><text x="51.50" y="453.50" font-size="10.8" font-weight="700" stroke="#111" stroke-width="0.5" text-anchor="middle" transform="rotate(-90 51.50 453.50)" textLength="91.2" lengthAdjust="spacingAndGlyphs">(% of total BMMCs)</text><text x="2.70" y="409.60" font-size="16.5" font-weight="700" stroke="#111" stroke-width="0.38" text-anchor="start">G</text><rect x="135.65" y="406.05" width="10.60" height="8.00" rx="0.6" fill="#fff" stroke="#000" stroke-width="1.5"/><text x="152.20" y="414.10" font-size="11" stroke="#111" stroke-width="0.42" text-anchor="start" textLength="18.3" lengthAdjust="spacingAndGlyphs">Veh</text><rect x="180.25" y="405.85" width="10.30" height="7.80" rx="0.6" fill="#000" stroke="#000" stroke-width="1.5"/><text x="196.30" y="414.10" font-size="11" stroke="#111" stroke-width="0.42" text-anchor="start" textLength="20.6" lengthAdjust="spacingAndGlyphs">PTH</text></g>
</svg>
</body></html>
